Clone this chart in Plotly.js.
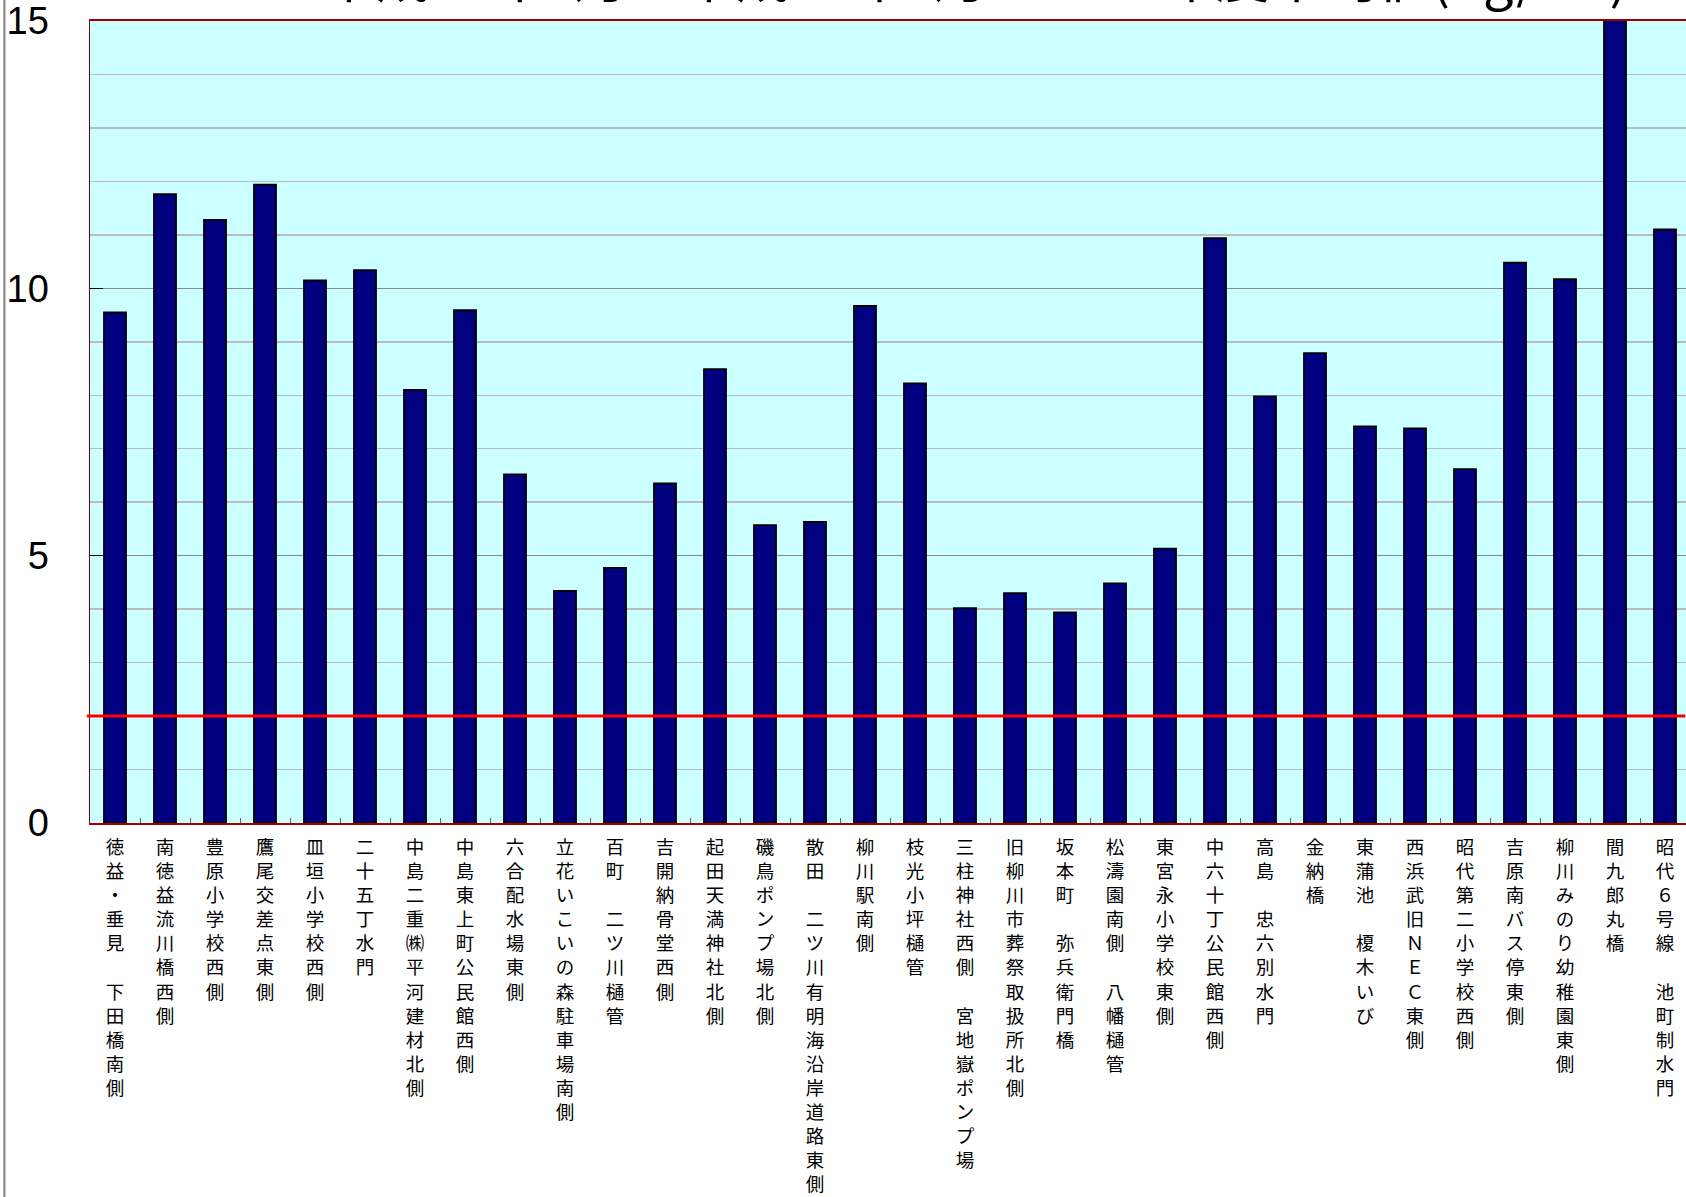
<!DOCTYPE html>
<html>
<head>
<meta charset="utf-8">
<script src="https://cdn.plot.ly/plotly-3.0.1.min.js"></script>
<style>
html, body { margin: 0; padding: 0; overflow: hidden; background: #fff; }
#chart { width: 1690px; height: 1197px; }
</style>
</head>
<body>
<div id="chart"></div>
<script>
// ---- data ----
const titleText = "平成21年4月～平成22年3月　2009年度平均値(ng/m³)";
const sites = [
  "徳益・垂見　下田橋南側",
  "南徳益流川橋西側",
  "豊原小学校西側",
  "鷹尾交差点東側",
  "皿垣小学校西側",
  "二十五丁水門",
  "中島二重㈱平河建材北側",
  "中島東上町公民館西側",
  "六合配水場東側",
  "立花いこいの森駐車場南側",
  "百町　二ツ川樋管",
  "吉開納骨堂西側",
  "起田天満神社北側",
  "磯鳥ポンプ場北側",
  "散田　二ツ川有明海沿岸道路東側",
  "柳川駅南側",
  "枝光小坪樋管",
  "三柱神社西側　宮地嶽ポンプ場",
  "旧柳川市葬祭取扱所北側",
  "坂本町　弥兵衛門橋",
  "松濤園南側　八幡樋管",
  "東宮永小学校東側",
  "中六十丁公民館西側",
  "高島　忠六別水門",
  "金納橋",
  "東蒲池　榎木いび",
  "西浜武旧ＮＥＣ東側",
  "昭代第二小学校西側",
  "吉原南バス停東側",
  "柳川みのり幼稚園東側",
  "間九郎丸橋",
  "昭代６号線　池町制水門"
];
const averages = [
  9.55, 11.76, 11.28, 11.94, 10.15, 10.34, 8.10, 9.59,
  6.52, 4.34, 4.77, 6.35, 8.49, 5.57, 5.63, 9.67,
  8.22, 4.02, 4.30, 3.94, 4.48, 5.13, 10.94, 7.98,
  8.79, 7.42, 7.38, 6.62, 10.48, 10.17, 15.3, 11.10
];
const referenceLevel = 2;
const yTickVals = [0, 5, 10, 15];
const yTickText = ["0", "5", "10", "15"];

// stack label characters vertically
const stacked = sites.map(s => Array.from(s).join("<br>"));

const trace = {
  type: "bar",
  x: stacked,
  y: averages,
  marker: { color: "#000080", line: { color: "#000000", width: 1.8 } },
  hoverinfo: "skip"
};

const layout = {
  width: 1690,
  height: 1197,
  margin: { l: 90, r: 0, t: 21, b: 374, pad: 0 },
  paper_bgcolor: "#ffffff",
  plot_bgcolor: "#ccffff",
  showlegend: false,
  bargap: 0.56,
  xaxis: {
    type: "category",
    showgrid: false,
    zeroline: false,
    showline: true,
    linecolor: "#a00000",
    linewidth: 2,
    mirror: true,
    ticks: "inside",
    tickson: "boundaries",
    ticklen: 5,
    tickwidth: 1,
    tickcolor: "#666666",
    tickangle: 0,
    tickfont: { family: "Noto Sans CJK JP", size: 18.5, color: "#000000" },
    ticklabelstandoff: 7
  },
  yaxis: {
    range: [0, 15],
    tickmode: "array",
    tickvals: yTickVals,
    ticktext: yTickText,
    showgrid: true,
    gridcolor: "#8c8c8c",
    gridwidth: 1.5,
    zeroline: false,
    showline: true,
    linecolor: "#800000",
    linewidth: 1.5,
    ticks: "inside",
    ticklen: 13,
    tickwidth: 1.5,
    tickcolor: "#000000",
    tickfont: { family: "Liberation Sans, Arial, sans-serif", size: 38, color: "#000000" },
    ticklabelstandoff: 32,
    minor: { dtick: 1, showgrid: true, gridcolor: "#bcbcbc", gridwidth: 1.5, ticks: "" }
  },
  shapes: [
    { type: "line", xref: "paper", yref: "y", x0: -0.002, x1: 0.997, y0: referenceLevel, y1: referenceLevel,
      line: { color: "#ff0000", width: 3 }, layer: "above" },
    { type: "line", xref: "paper", yref: "paper", x0: -0.0535, x1: -0.0535, y0: -0.6, y1: 1.2,
      line: { color: "#808080", width: 2 } }
  ],
  annotations: [
    { text: titleText, xref: "paper", yref: "paper", x: 0.553, y: 1 + 5 / 802,
      xanchor: "center", yanchor: "bottom", showarrow: false,
      font: { family: "Noto Sans CJK JP", size: 54, color: "#000000" } }
  ]
};

Plotly.newPlot("chart", [trace], layout, { staticPlot: true, displayModeBar: false });
</script>
</body>
</html>
